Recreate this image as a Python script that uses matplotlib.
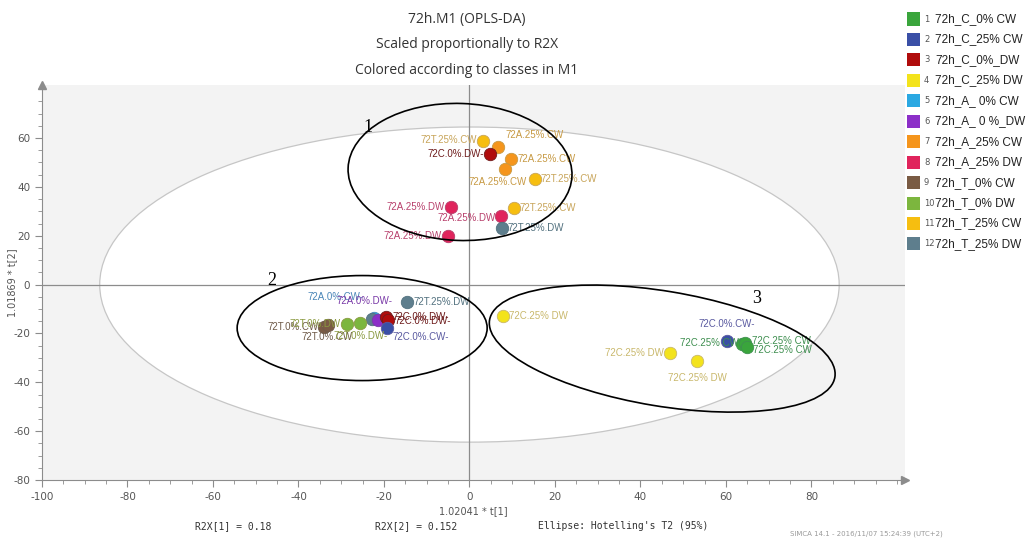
import matplotlib
matplotlib.use("Agg")
import matplotlib.pyplot as plt
import matplotlib.transforms as mtransforms
from matplotlib.patches import Ellipse, Rectangle
from matplotlib.ticker import MultipleLocator

plt.rcParams["axes.unicode_minus"] = False

# ---- classes -------------------------------------------------------------
class_names = ["72h_C_0% CW", "72h_C_25% CW", "72h_C_0%_DW", "72h_C_25% DW",
               "72h_A_ 0% CW", "72h_A_ 0 %_DW", "72h_A_25% CW", "72h_A_25% DW",
               "72h_T_0% CW", "72h_T_0% DW", "72h_T_25% CW", "72h_T_25% DW"]
class_colors = ["#3aa53c", "#3a4fa6", "#b00c0c", "#f3e31c", "#2aa8e2", "#8c2fc8",
                "#f5951c", "#e0245c", "#7a5b44", "#7cb63e", "#f6be10", "#5e7e8d"]
label_colors = ["#3f8f50", "#5a5aa0", "#6e1c1c", "#c9b86c", "#4a86b8", "#7a3aa8",
                "#c79a44", "#b8406c", "#6e5a48", "#8a9a40", "#c8a55a", "#52717f"]

# ---- scores (t[1], t[2]) -------------------------------------------------
t1 = [3.1, 6.6, 4.8, 9.7, 8.4, 15.3, -4.3, 10.4, 7.5, 7.6, -5.0,
      -14.5, -22.4, -22.9, -21.3, -19.5, -19.0, -19.4, -34.0, -33.2, -28.7, -25.5,
      7.9, 47.0, 53.3, 60.2, 63.8, 64.4, 65.0]
t2 = [58.9, 56.2, 53.3, 51.4, 47.4, 43.1, 31.6, 31.3, 28.1, 23.2, 19.9,
      -7.2, -13.6, -14.1, -14.5, -13.4, -14.6, -17.8, -17.3, -16.6, -16.0, -15.6,
      -12.7, -28.1, -31.1, -23.1, -24.4, -24.0, -25.7]
obs_class = [11, 7, 3, 7, 7, 11, 8, 11, 8, 12, 8,
             12, 5, 12, 6, 3, 3, 2, 9, 9, 10, 10,
             4, 4, 4, 2, 1, 1, 1]
obs_label = ["72T.25%.CW", "72A.25%.CW", "72C.0%.DW-", "72A.25%.CW", "72A.25%.CW",
             "72T.25%.CW", "72A.25%.DW", "72T.25%.CW", "72A.25%.DW", "72T.25%.DW",
             "72A.25%.DW",
             "72T.25%.DW", "72A.0%.CW-", "72T.25%.DW", "72A.0%.DW-", "72C.0%.DW-",
             "72C.0%.DW-", "72C.0%.CW-", "72T.0%.CW", "72T.0%.CW", "72T.0%.DW",
             "72T.0%.DW-",
             "72C.25% DW", "72C.25% DW", "72C.25% DW", "72C.0%.CW-", "72C.25% CW",
             "72C.25% CW", "72C.25% CW"]
# label placement: offset in pixels and alignment
label_pos = [((-6, 1), "right"), ((8, 12), "left"), ((-6, 0), "right"), ((7, 0), "left"),
             ((-8, -13), "center"), ((6, 0), "left"), ((-6, 0), "right"), ((6, 0), "left"),
             ((-6, -2), "right"), ((6, 0), "left"), ((-6, 0), "right"),
             ((6, 0), "left"), ((-10, 21), "right"), ((25, 1), "none"), ((14, 19), "right"),
             ((6, 0), "left"), ((6, -1), "left"), ((6, -9), "left"), ((-6, 0), "right"),
             ((0, -12), "center"), ((-6, 0), "right"), ((0, -13), "center"),
             ((6, 0), "left"), ((-6, 0), "right"), ((0, -17), "center"),
             ((0, 17), "center"), ((-3, 1), "right"), ((7, 2), "left"), ((6, -3), "left")]

fig = plt.figure(figsize=(10.35, 5.42), dpi=100)
W, H = 1035.0, 542.0
ax = fig.add_axes([42 / W, 1 - 480 / H, 863 / W, 395 / H])
ax.set_xlim(-100, 101.9)
ax.set_ylim(-80, 81.7)
ax.set_facecolor("#f3f3f3")

# Hotelling's T2 ellipse
ax.add_patch(Ellipse((0, 0), 2 * 86.5, 2 * 64.5, facecolor="white",
                     edgecolor="#c6c6c6", lw=0.9, zorder=0.5))
ax.axhline(0, color="#8c8c8c", lw=0.9, zorder=1)
ax.axvline(0, color="#8c8c8c", lw=0.9, zorder=1)

# observations
for i in range(len(t1)):
    c = obs_class[i] - 1
    ax.scatter(t1[i], t2[i], s=80, color=class_colors[c],
               edgecolor=label_colors[c], linewidth=0.6, zorder=3 + i * 0.01)
for i in range(len(t1)):
    c = obs_class[i] - 1
    (dx, dy), ha = label_pos[i]
    if ha == "none":
        continue
    ax.annotate(obs_label[i], (t1[i], t2[i]), xytext=(dx, dy),
                textcoords="offset pixels", ha=ha, va="center",
                fontsize=7, color=label_colors[c], family="Liberation Sans",
                zorder=4)

# group outlines drawn in screen proportions
def outline(cx, cy, w, h, angle):
    tr = mtransforms.Affine2D() + mtransforms.ScaledTranslation(cx, cy, ax.transData)
    ax.add_patch(Ellipse((0, 0), w, h, angle=angle, fill=False,
                         edgecolor="black", lw=1.2, transform=tr, zorder=5))

outline(-2.2, 46.1, 224, 137, -2)
outline(-25.1, -17.8, 250, 105, 0)
outline(45.1, -26.2, 350, 115, -9.4)
for txt, x, y in [("1", -23.7, 64.1), ("2", -46.2, 1.6), ("3", 67.3, -5.9)]:
    ax.text(x, y, txt, fontsize=13, family="Liberation Serif", ha="center",
            va="center", zorder=6)

# axes styling
for s in ["top", "right"]:
    ax.spines[s].set_visible(False)
for s in ["left", "bottom"]:
    ax.spines[s].set_color("#8c8c8c")
ax.xaxis.set_minor_locator(MultipleLocator(5))
ax.yaxis.set_minor_locator(MultipleLocator(5))
ax.set_xticks(range(-100, 100, 20))
ax.set_yticks(range(-80, 80, 20))
ax.tick_params(which="major", direction="out", length=5, color="#8c8c8c",
               labelcolor="#555555", labelsize=7.5)
ax.tick_params(which="minor", direction="out", length=3, color="#8c8c8c")
ax.plot(1, 0, ">", color="#8c8c8c", ms=6, transform=ax.transAxes, clip_on=False)
ax.plot(0, 1, "^", color="#8c8c8c", ms=6, transform=ax.transAxes, clip_on=False)
ax.set_xlabel("1.02041 * t[1]", fontsize=7, color="#555555", labelpad=3)
ax.set_ylabel("1.01869 * t[2]", fontsize=7, color="#555555")
ax.yaxis.set_label_coords((17 - 42) / 863, 0.5)

# titles
for txt, y in [("72h.M1 (OPLS-DA)", 20), ("Scaled proportionally to R2X", 45),
               ("Colored according to classes in M1", 70)]:
    fig.text(467 / W, 1 - y / H, txt, ha="center", va="center", fontsize=10,
             family="Open Sans", color="#333333")

# footer
for txt, x in [("R2X[1] = 0.18", 195), ("R2X[2] = 0.152", 375),
               ("Ellipse: Hotelling's T2 (95%)", 538)]:
    fig.text(x / W, 1 - 526 / H, txt, ha="left", va="center", fontsize=7,
             family="DejaVu Sans Mono", color="#333333")
fig.text(790 / W, 1 - 534 / H, "SIMCA 14.1 - 2016/11/07 15:24:39 (UTC+2)",
         ha="left", va="center", fontsize=5, color="#9a9a9a")

# class legend
for i, name in enumerate(class_names):
    yc = 19 + i * 20.45
    fig.patches.append(Rectangle((907 / W, 1 - (yc + 6.5) / H), 13 / W, 13 / H,
                                 transform=fig.transFigure, facecolor=class_colors[i],
                                 edgecolor="none"))
    fig.text(924 / W, 1 - yc / H, str(i + 1), ha="left", va="center", fontsize=6,
             color="#555555")
    fig.text(935 / W, 1 - yc / H, name, ha="left", va="center", fontsize=8.5,
             family="Liberation Sans", color="#222222")

fig.savefig("out.png", dpi=100)
